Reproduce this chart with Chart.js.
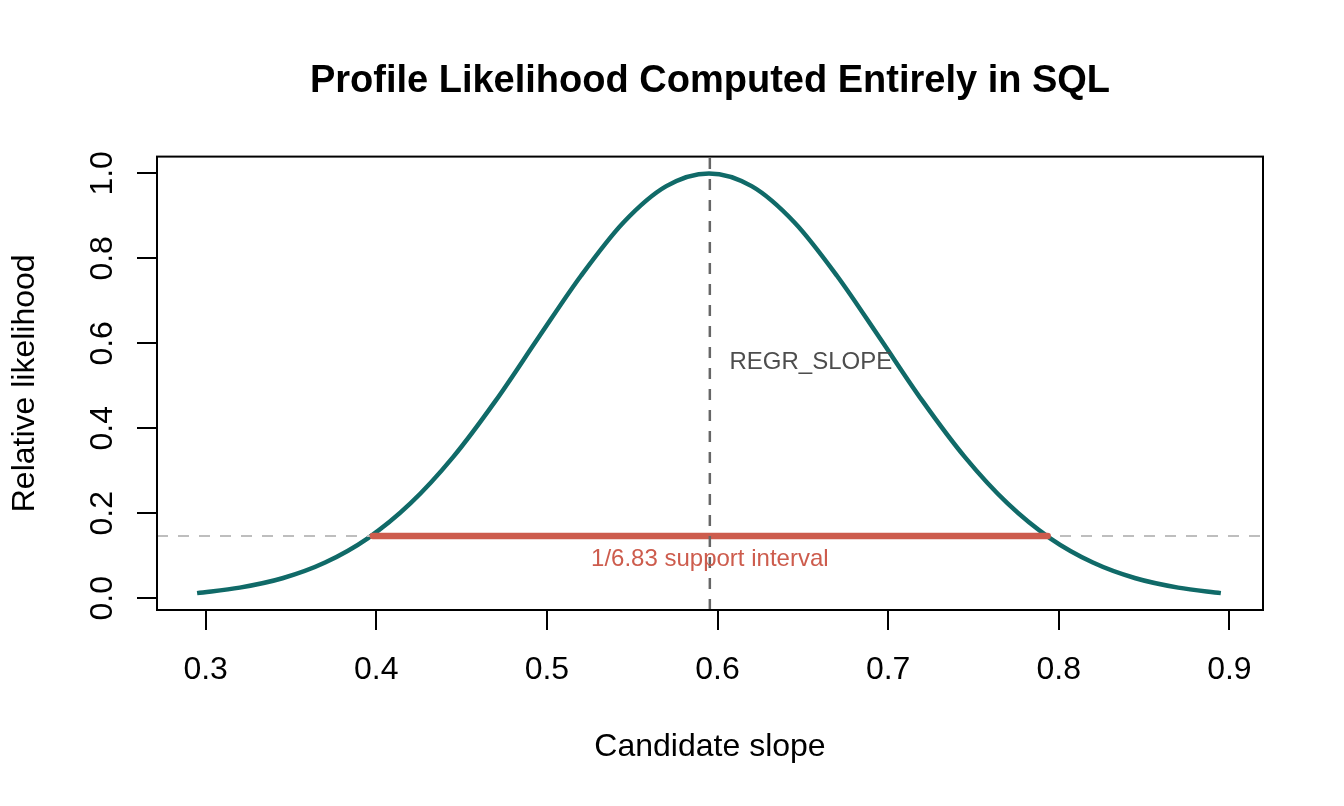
<!DOCTYPE html>
<html>
<head>
<meta charset="utf-8">
<script src="https://cdn.jsdelivr.net/npm/chart.js@4.4.1/dist/chart.umd.min.js"></script>
<style>
  html, body { margin: 0; padding: 0; background: #fff; }
  #wrap { width: 1344px; height: 806px; position: relative; }
</style>
</head>
<body>
<div id="wrap"><canvas id="likChart"></canvas></div>
<script>
// candidate slopes and their relative likelihood
const slopeGrid = [0.295, 0.32, 0.345, 0.37, 0.395, 0.42, 0.445, 0.47, 0.495, 0.52, 0.545, 0.57, 0.595,
                   0.62, 0.645, 0.67, 0.695, 0.72, 0.745, 0.77, 0.795, 0.82, 0.845, 0.87, 0.895];
const relLik = [0.012, 0.025, 0.047, 0.084, 0.141, 0.223, 0.332, 0.465, 0.613, 0.759, 0.885, 0.970, 1.000,
                0.970, 0.885, 0.759, 0.613, 0.465, 0.332, 0.223, 0.141, 0.084, 0.047, 0.025, 0.012];

const mleSlope = 0.5955;         // REGR_SLOPE
const cutoff = 0.1464;           // 1/6.83
const supportLo = 0.398;
const supportHi = 0.7935;

const xTicks = [0.3, 0.4, 0.5, 0.6, 0.7, 0.8, 0.9];
const yTicks = [0.0, 0.2, 0.4, 0.6, 0.8, 1.0];
const xRange = [0.2715, 0.9197];
const yRange = [-0.0277, 1.0395];

// where the two text labels sit, in data units
const slopeLabelAt = [0.607, 0.555];
const intervalLabelAt = [mleSlope, 0.0925];

const teal = '#106a68';
const red = '#cd5c4d';
const FONT = '"Liberation Sans", Arial, Helvetica, sans-serif';

// R style extras: plot box, rotated y tick labels, text annotations
const rExtras = {
    id: 'rExtras',
    afterDraw(chart) {
        const { ctx, chartArea: a, scales: { x, y } } = chart;
        ctx.save();
        ctx.strokeStyle = '#000';
        ctx.lineWidth = 2;
        ctx.strokeRect(a.left, a.top, a.right - a.left, a.bottom - a.top);

        ctx.fillStyle = '#000';
        ctx.font = '32px ' + FONT;
        ctx.textAlign = 'center';
        ctx.textBaseline = 'alphabetic';
        yTicks.forEach(v => {
            ctx.save();
            ctx.translate(a.left - 45, y.getPixelForValue(v));
            ctx.rotate(-Math.PI / 2);
            ctx.fillText(v.toFixed(1), 0, 0);
            ctx.restore();
        });

        ctx.font = '24px ' + FONT;
        ctx.textBaseline = 'middle';
        ctx.textAlign = 'left';
        ctx.fillStyle = '#4d4d4d';
        ctx.fillText('REGR_SLOPE', x.getPixelForValue(slopeLabelAt[0]), y.getPixelForValue(slopeLabelAt[1]));
        ctx.textAlign = 'center';
        ctx.fillStyle = red;
        ctx.fillText('1/6.83 support interval', x.getPixelForValue(intervalLabelAt[0]), y.getPixelForValue(intervalLabelAt[1]));
        ctx.restore();
    }
};

let ctx = document.getElementById('likChart').getContext('2d');
let likChart = new Chart(ctx, {
    type: 'line',
    data: {
        datasets: [
            {
                label: 'MLE',
                data: [{ x: mleSlope, y: yRange[0] }, { x: mleSlope, y: yRange[1] }],
                borderColor: '#666666',
                borderWidth: 2.5,
                borderDash: [11, 10],
                pointRadius: 0
            },
            {
                label: 'Support interval',
                data: [{ x: supportLo, y: cutoff }, { x: supportHi, y: cutoff }],
                borderColor: red,
                borderWidth: 6.5,
                borderCapStyle: 'round',
                pointRadius: 0
            },
            {
                label: 'Cutoff',
                data: [{ x: xRange[0], y: cutoff }, { x: xRange[1], y: cutoff }],
                borderColor: '#bebebe',
                borderWidth: 2,
                borderDash: [11, 10],
                pointRadius: 0
            },
            {
                label: 'Relative likelihood',
                data: slopeGrid.map((s, i) => ({ x: s, y: relLik[i] })),
                borderColor: teal,
                borderWidth: 4.5,
                cubicInterpolationMode: 'monotone',
                pointRadius: 0
            }
        ]
    },
    options: {
        responsive: true,
        maintainAspectRatio: false,
        devicePixelRatio: 1,
        animation: false,
        layout: { padding: { top: 0, right: 81, bottom: 0, left: 0 } },
        plugins: {
            legend: { display: false },
            tooltip: { enabled: false },
            title: {
                display: true,
                fullSize: false,
                text: 'Profile Likelihood Computed Entirely in SQL',
                color: '#000',
                font: { family: FONT, size: 38, weight: 'bold' },
                padding: { top: 59, bottom: 52 }
            }
        },
        scales: {
            x: {
                type: 'linear',
                position: 'bottom',
                min: xRange[0],
                max: xRange[1],
                afterBuildTicks: s => { s.ticks = xTicks.map(v => ({ value: v })); },
                afterFit: s => { s.height = 196; },
                grid: { drawOnChartArea: false, drawTicks: true, tickLength: 20, color: '#000', lineWidth: 2 },
                border: { display: false },
                ticks: {
                    color: '#000',
                    padding: 21,
                    maxRotation: 0,
                    font: { family: FONT, size: 32 },
                    callback: v => v.toFixed(1)
                },
                title: {
                    display: true,
                    text: 'Candidate slope',
                    color: '#000',
                    font: { family: FONT, size: 32 },
                    padding: { top: 0, bottom: 40 }
                }
            },
            y: {
                type: 'linear',
                min: yRange[0],
                max: yRange[1],
                afterBuildTicks: s => { s.ticks = yTicks.map(v => ({ value: v })); },
                afterFit: s => { s.width = 157; },
                grid: { drawOnChartArea: false, drawTicks: true, tickLength: 20, color: '#000', lineWidth: 2 },
                border: { display: false },
                ticks: { display: false },
                title: {
                    display: true,
                    text: 'Relative likelihood',
                    color: '#000',
                    font: { family: FONT, size: 32 },
                    padding: { top: 6, bottom: 0 }
                }
            }
        }
    },
    plugins: [rExtras]
});
</script>
</body>
</html>
